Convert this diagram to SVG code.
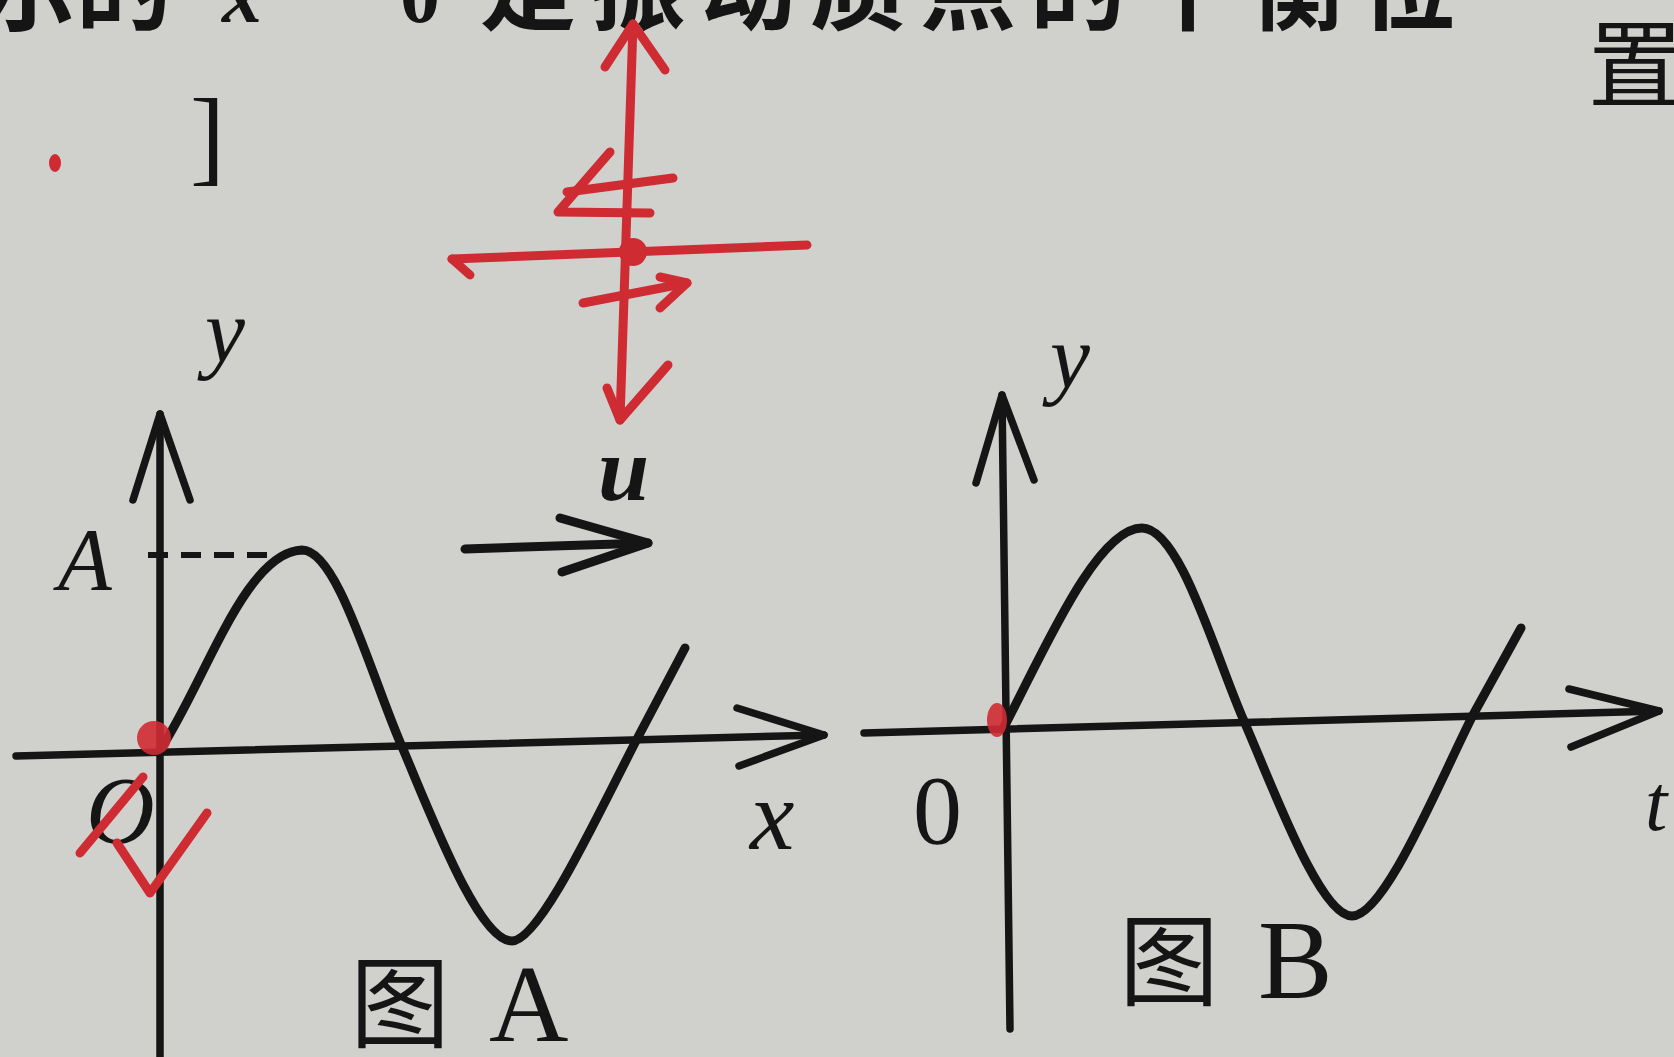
<svg xmlns="http://www.w3.org/2000/svg" width="1674" height="1057" viewBox="0 0 1674 1057">
<defs>
<style>
.ink{fill:none;stroke:#151515;stroke-width:9;stroke-linecap:round;stroke-linejoin:round}
.axis{fill:none;stroke:#151515;stroke-width:7.5;stroke-linecap:round;stroke-linejoin:round}
.dash{fill:none;stroke:#151515;stroke-width:6;stroke-dasharray:20 13}
.red{fill:none;stroke:#cf2b33;stroke-width:9;stroke-linecap:round;stroke-linejoin:round}
.redfill{fill:#cf2b33}
.it{font-family:"Liberation Serif",serif;font-style:italic;fill:#151515}
.rm{font-family:"Liberation Serif",serif;fill:#151515}
.cjk{font-family:"Liberation Serif","Noto Sans CJK SC",serif;fill:#151515}
</style>
</defs>
<rect width="1674" height="1057" fill="#d0d1cc"/>

<g id="page-text">
<text class="cjk" font-size="96" y="22" font-weight="bold"><tspan x="-20">示的</tspan><tspan class="it" x="222" font-size="80">x</tspan><tspan x="400" font-size="80" font-style="normal">0</tspan><tspan x="480" letter-spacing="14">是振动质点的平衡位</tspan></text>
<text class="rm" x="190" y="172" font-size="105">]</text>
<text class="cjk" x="1588" y="100" font-size="95">置</text>
</g>

<g id="figA">
<path class="axis" d="M160,1057 L160,414"/>
<path class="axis" d="M133,500 L160,414 L190,500"/>
<path class="axis" d="M16,756 L824,735"/>
<path class="axis" d="M737,708 L824,735 L739,766"/>
<path class="dash" d="M148,555 L285,555"/>
<path class="ink" d="M160,750 C205,682 245,552 302,550 C337,550 370,672 400,742 C430,812 478,941 512,941 C540,941 600,810 637,739 L685,648"/>
<path class="ink" d="M465,549 L648,543"/>
<path class="ink" d="M560,518 L648,543 L562,572"/>
<text class="it" x="205" y="362" font-size="90">y</text>
<text class="it" x="58" y="589" font-size="88">A</text>
<text class="it" x="86" y="843" font-size="95">O</text>
<text class="it" x="750" y="849" font-size="100">x</text>
<text class="it" x="598" y="500" font-size="92" font-weight="bold">u</text>
<text class="cjk" x="350" y="1040" font-size="100">图</text>
<text class="rm" x="489" y="1041" font-size="110">A</text>
</g>

<g id="figB">
<path class="axis" d="M1010,1029 L1002,395"/>
<path class="axis" d="M976,483 L1002,395 L1034,480"/>
<path class="axis" d="M864,733 L1659,711"/>
<path class="axis" d="M1569,689 L1659,711 L1571,747"/>
<path class="ink" d="M1003,729 C1040,660 1095,528 1142,528 C1180,528 1215,655 1244,721 C1274,790 1320,916 1352,916 C1385,916 1440,780 1473,715 L1521,628"/>
<text class="it" x="1050" y="388" font-size="90">y</text>
<text class="rm" x="913" y="843" font-size="98">0</text>
<text class="it" x="1645" y="830" font-size="80">t</text>
<text class="cjk" x="1119" y="998" font-size="100">图</text>
<text class="rm" x="1258" y="998" font-size="112">B</text>
</g>

<g id="red-marks">
<path class="red" d="M633,24 Q626,220 620,420"/>
<path class="red" d="M605,67 L633,24 L665,70"/>
<path class="red" d="M607,388 L620,420 L668,365"/>
<path class="red" d="M452,259 L807,245"/>
<path class="red" stroke-width="6" d="M452,259 L470,275"/>
<path class="red" d="M610,152 L558,212 L650,213"/>
<path class="red" d="M567,192 L673,178"/>
<path class="red" d="M583,303 L687,283"/>
<path class="red" d="M660,277 L687,283 L660,308"/>
<circle class="redfill" cx="633" cy="252" r="14"/>
<circle class="redfill" cx="154" cy="738" r="17" opacity="0.9"/>
<path class="red" d="M80,853 L143,777"/>
<path class="red" d="M117,843 L150,893 L207,813"/>
<ellipse class="redfill" cx="997" cy="720" rx="10" ry="17" opacity="0.9"/>
<ellipse class="redfill" cx="55" cy="163" rx="6" ry="9"/>
</g>
</svg>
